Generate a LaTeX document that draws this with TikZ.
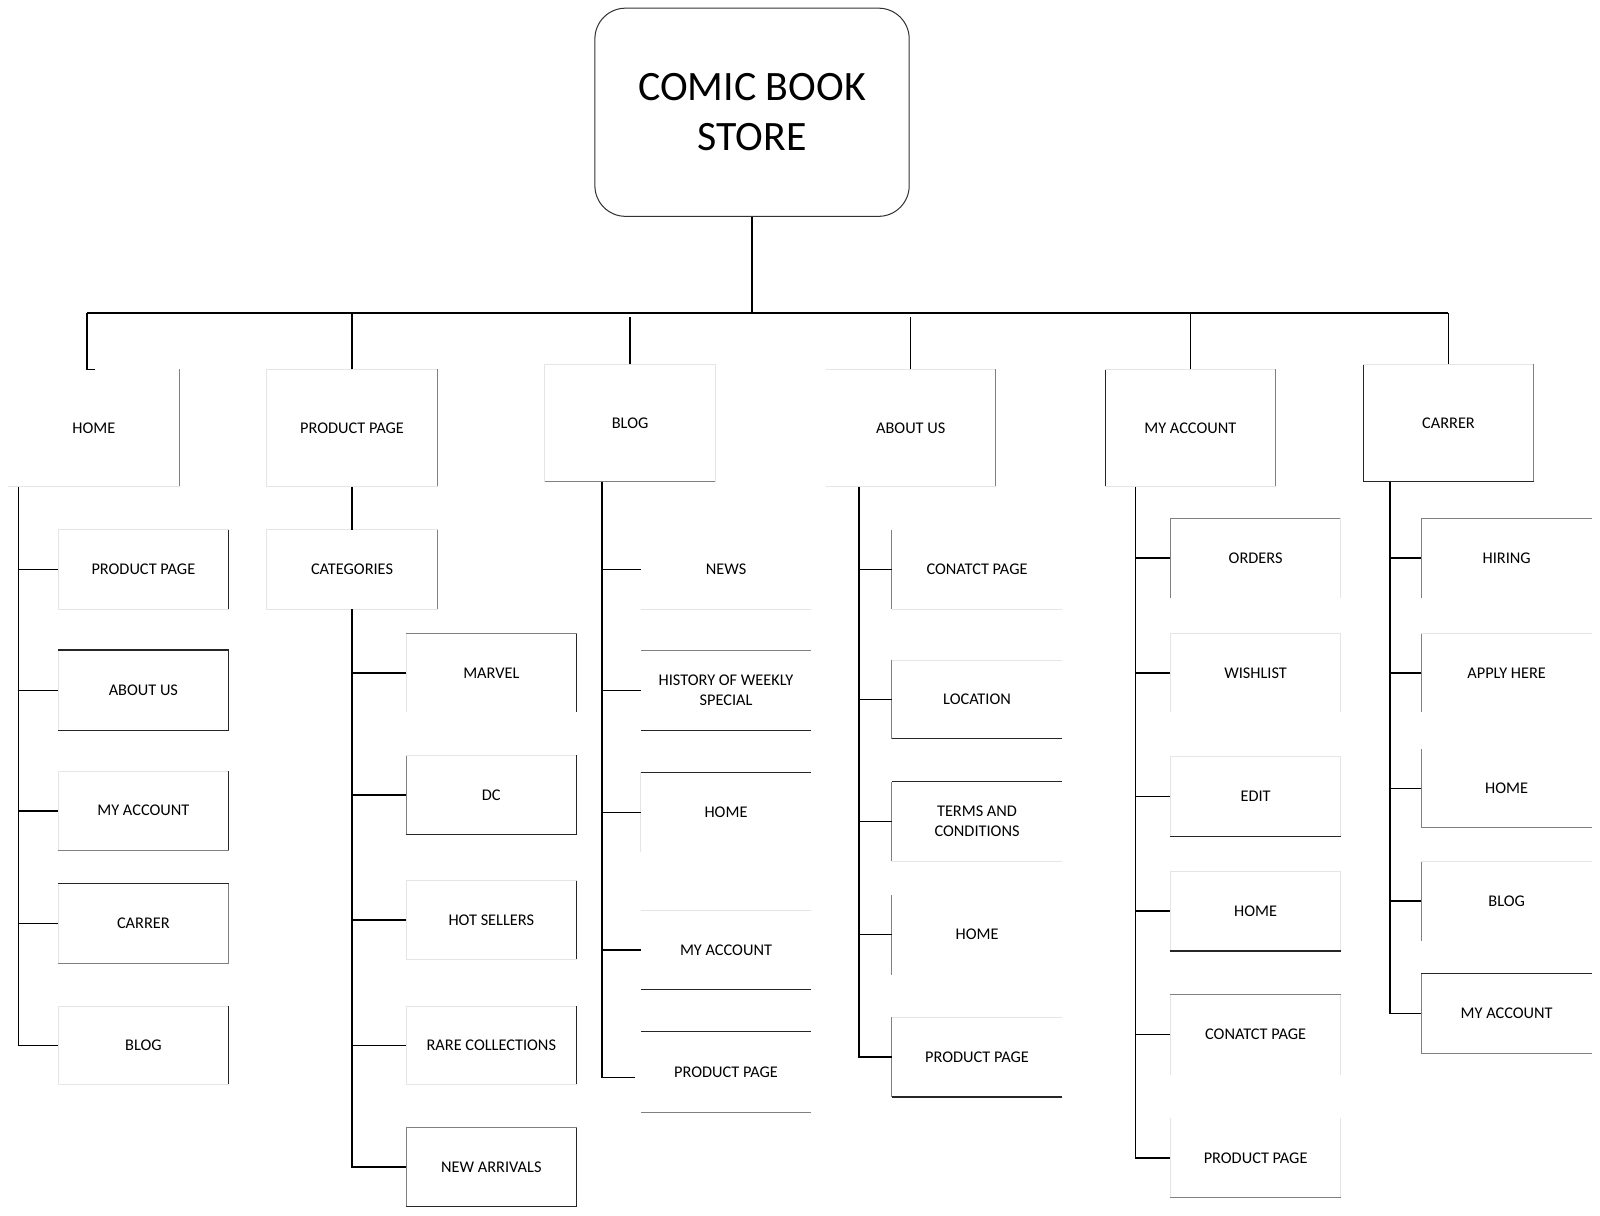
\documentclass[tikz,border=0pt]{standalone}
\usepackage{fontspec}
\setmainfont{Carlito}
\tikzset{
 x=0.5pt, y=-0.5pt,
 boxnode/.style={inner sep=0pt, outer sep=0pt, align=center, font=\fontsize{8}{9.5}\selectfont},
 rootnode/.style={draw=black!80, line width=0.5pt, rounded corners=15pt, inner sep=0pt, align=center, font=\fontsize{20.5}{24.5}\selectfont},
 sD/.style={draw=black!85, line width=0.6pt},
 sM/.style={draw=black!50, line width=0.5pt},
 sF/.style={draw=black!10, line width=0.5pt},
 sN/.style={draw=none},
 conn/.style={draw=black, line width=0.75pt},
 busline/.style={draw=black, line width=0.9pt},
}
\newcommand\mybox[6]{%
 \pgfmathsetmacro\bxw{(#4-#2)*0.5}%
 \pgfmathsetmacro\bxh{(#5-#3)*0.5}%
 \node[boxnode, minimum width=\bxw pt, minimum height=\bxh pt] (#1) at ({(#2+#4)/2},{(#3+#5)/2}) {#6};}
\newcommand\mysides[5]{%
 \draw[#2] (#1.south west) -- (#1.north west);
 \draw[#3] (#1.north west) -- (#1.north east);
 \draw[#4] (#1.north east) -- (#1.south east);
 \draw[#5] (#1.south east) -- (#1.south west);}
\begin{document}
\begin{tikzpicture}
\useasboundingbox (0,0) rectangle (1568,1191);
\fill[white] (0,0) rectangle (1568,1191);
% root
\node[rootnode, minimum width=154pt, minimum height=102pt] (root) at (737,110) {COMIC BOOK\\STORE};
% level 1
\mybox{home}{8}{362}{176}{477}{HOME}
\mybox{pp}{261}{362}{429}{477}{PRODUCT PAGE}
\mybox{blog}{534}{357}{701}{472}{BLOG}
\mybox{about}{809}{362}{976}{477}{ABOUT US}
\mybox{acct}{1083}{362}{1250}{477}{MY ACCOUNT}
\mybox{car}{1336}{357}{1503}{472}{CARRER}
% home children
\mybox{h1}{57}{519}{224}{597}{PRODUCT PAGE}
\mybox{h2}{57}{637}{224}{716}{ABOUT US}
\mybox{h3}{57}{756}{224}{833}{MY ACCOUNT}
\mybox{h4}{57}{866}{224}{944}{CARRER}
\mybox{h5}{57}{986}{224}{1063}{BLOG}
% product page
\mybox{cat}{261}{519}{429}{597}{CATEGORIES}
\mybox{p1}{398}{621}{565}{698}{MARVEL}
\mybox{p2}{398}{740}{565}{818}{DC}
\mybox{p3}{398}{863}{565}{940}{HOT SELLERS}
\mybox{p4}{398}{986}{565}{1063}{RARE COLLECTIONS}
\mybox{p5}{398}{1105}{565}{1182}{NEW ARRIVALS}
% blog
\mybox{b1}{628}{519}{795}{597}{NEWS}
\mybox{b2}{628}{637}{795}{716}{HISTORY OF WEEKLY\\SPECIAL}
\mybox{b3}{628}{757}{795}{835}{HOME}
\mybox{b4}{628}{892}{795}{970}{MY ACCOUNT}
\mybox{b5}{628}{1011}{795}{1090}{PRODUCT PAGE}
% about
\mybox{a1}{874}{519}{1041}{597}{CONATCT PAGE}
\mybox{a2}{874}{647}{1041}{724}{LOCATION}
\mybox{a3}{874}{766}{1041}{844}{TERMS AND\\CONDITIONS}
\mybox{a4}{874}{877}{1041}{955}{HOME}
\mybox{a5}{874}{997}{1041}{1075}{PRODUCT PAGE}
% my account
\mybox{m1}{1147}{508}{1314}{586}{ORDERS}
\mybox{m2}{1147}{621}{1314}{698}{WISHLIST}
\mybox{m3}{1147}{741}{1314}{820}{EDIT}
\mybox{m4}{1147}{854}{1314}{932}{HOME}
\mybox{m5}{1147}{975}{1314}{1053}{CONATCT PAGE}
\mybox{m6}{1147}{1096}{1314}{1174}{PRODUCT PAGE}
% carrer
\mybox{c1}{1393}{508}{1560}{586}{HIRING}
\mybox{c2}{1393}{621}{1560}{698}{APPLY HERE}
\mybox{c3}{1393}{734}{1560}{811}{HOME}
\mybox{c4}{1393}{844}{1560}{922}{BLOG}
\mybox{c5}{1393}{954}{1560}{1032}{MY ACCOUNT}
% box sides (left, top, right, bottom)
\mysides{home}{sN}{sN}{sM}{sF}
\mysides{pp}{sF}{sF}{sM}{sF}
\mysides{blog}{sF}{sF}{sF}{sM}
\mysides{about}{sN}{sF}{sM}{sF}
\mysides{acct}{sD}{sF}{sM}{sF}
\mysides{car}{sD}{sF}{sM}{sD}
\mysides{h1}{sF}{sF}{sD}{sF}
\mysides{h2}{sF}{sD}{sD}{sD}
\mysides{h3}{sF}{sF}{sD}{sM}
\mysides{h4}{sF}{sD}{sM}{sM}
\mysides{h5}{sF}{sF}{sD}{sF}
\mysides{cat}{sF}{sF}{sM}{sF}
\mysides{p1}{sF}{sM}{sD}{sN}
\mysides{p2}{sM}{sF}{sD}{sD}
\mysides{p3}{sF}{sF}{sD}{sF}
\mysides{p4}{sF}{sF}{sD}{sF}
\mysides{p5}{sM}{sM}{sD}{sD}
\mysides{b1}{sN}{sN}{sN}{sF}
\mysides{b2}{sN}{sM}{sN}{sD}
\mysides{b3}{sF}{sD}{sN}{sN}
\mysides{b4}{sN}{sF}{sN}{sD}
\mysides{b5}{sN}{sD}{sN}{sM}
\mysides{a1}{sM}{sN}{sN}{sF}
\mysides{a2}{sM}{sF}{sN}{sD}
\mysides{a3}{sM}{sD}{sN}{sF}
\mysides{a4}{sM}{sN}{sN}{sN}
\mysides{a5}{sM}{sF}{sN}{sD}
\mysides{m1}{sM}{sM}{sF}{sN}
\mysides{m2}{sF}{sF}{sF}{sN}
\mysides{m3}{sF}{sF}{sF}{sD}
\mysides{m4}{sF}{sF}{sF}{sD}
\mysides{m5}{sF}{sM}{sF}{sN}
\mysides{m6}{sF}{sN}{sF}{sM}
\mysides{c1}{sM}{sM}{sN}{sN}
\mysides{c2}{sM}{sF}{sN}{sN}
\mysides{c3}{sM}{sN}{sN}{sM}
\mysides{c4}{sM}{sF}{sN}{sN}
\mysides{c5}{sM}{sD}{sN}{sM}
% top connectors
\coordinate (busL) at (85,307);
\coordinate (busR) at (1419,307);
\draw[busline] (busL) -- (busR);
\draw[busline] (root.south) -- (root.south |- busL);
\draw[conn] (busL) -- (busL |- home.north) -- ++(8,0);
\draw[conn] (pp.north) -- (pp.north |- busL);
\draw[conn] (blog.north) -- ([yshift=-2pt]blog.north |- busL);
\draw[conn] (about.north) -- ([yshift=-2pt]about.north |- busL);
\draw[conn] (acct.north) -- (acct.north |- busL);
\draw[conn] (car.north) -- (car.north |- busL);
% home column
\coordinate (hv) at (18,477);
\draw[conn] (hv) -- (hv |- h5.west) -- (h5.west);
\foreach \n in {h1,h2,h3,h4} \draw[conn] (hv |- \n.west) -- (\n.west);
% product page column
\draw[conn] (pp.south) -- (cat.north);
\draw[conn] (cat.south) -- (cat.south |- p5.west) -- (p5.west);
\foreach \n in {p1,p2,p3,p4} \draw[conn] (cat.south |- \n.west) -- (\n.west);
% blog column
\coordinate (bv) at (590,472);
\coordinate (bend) at (622,1056);
\draw[conn] (bv) -- (bv |- bend) -- (bend);
\foreach \n in {b1,b2,b3,b4} \draw[conn] (bv |- \n.west) -- (\n.west);
% about column
\coordinate (av) at (842,477);
\draw[conn] (av) -- (av |- a5.west) -- (a5.west);
\foreach \n in {a1,a2,a3,a4} \draw[conn] (av |- \n.west) -- (\n.west);
% my account column
\coordinate (mv) at (1113,477);
\draw[conn] (mv) -- (mv |- m6.west) -- (m6.west);
\foreach \n in {m1,m2,m3,m4,m5} \draw[conn] (mv |- \n.west) -- (\n.west);
% carrer column
\coordinate (cv) at (1362,472);
\draw[conn] (cv) -- (cv |- c5.west) -- (c5.west);
\foreach \n in {c1,c2,c3,c4} \draw[conn] (cv |- \n.west) -- (\n.west);
\end{tikzpicture}
\end{document}
